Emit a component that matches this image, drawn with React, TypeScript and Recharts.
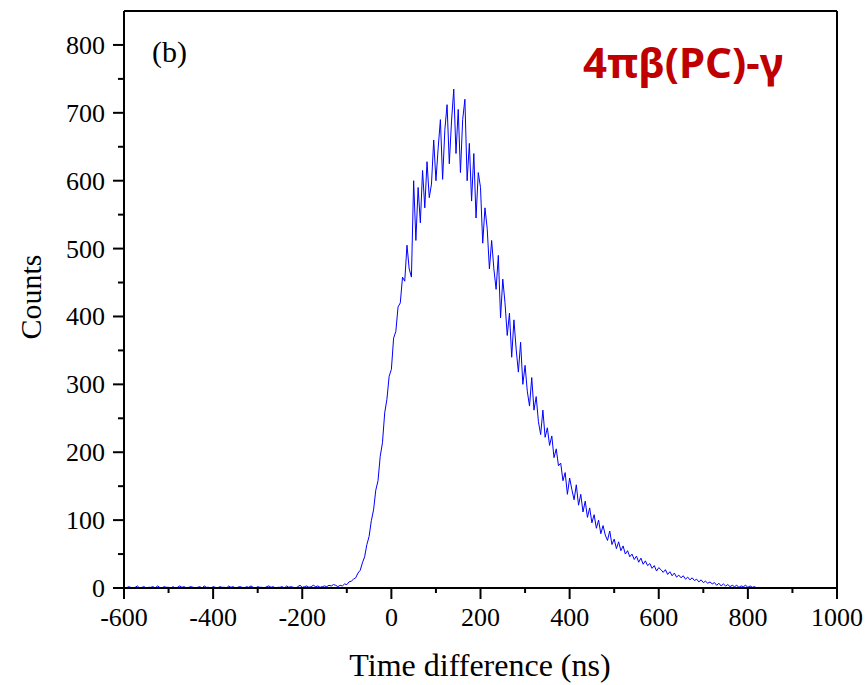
import React from 'react';
import { LineChart, Line, XAxis, YAxis, ReferenceLine } from 'recharts';

// time bins of 5 ns, first bin at -600 ns
const binStart = -600;
const binWidth = 5;

// flat background, -600 .. -125 ns
const baselineCounts = [
  1, 0, 2, 1, 0, 1, 3, 0, 1, 2,
  0, 1, 1, 2, 0, 3, 1, 0, 2, 1,
  1, 0, 2, 0, 1, 3, 1, 2, 0, 1,
  2, 1, 0, 1, 2, 0, 3, 1, 1, 0,
  2, 1, 0, 2, 1, 1, 0, 3, 1, 2,
  0, 1, 2, 1, 0, 2, 1, 3, 1, 0,
  2, 1, 1, 0, 2, 3, 1, 2, 0, 1,
  1, 2, 0, 3, 1, 2, 1, 0, 2, 4,
  1, 2, 3, 1, 2, 4, 2, 3, 1, 2,
  3, 2, 4, 3, 5, 4
];

// coincidence peak, -120 .. 830 ns
const pulseCounts = [
  2, 4, 3, 6, 5, 9, 10, 13, 15, 22,
  26, 37, 46, 64, 76, 99, 115, 144, 158, 194,
  214, 258, 278, 312, 322, 368, 378, 414, 420, 458,
  452, 505, 470, 458, 600, 512, 590, 538, 615, 560,
  628, 575, 595, 660, 600, 648, 690, 602, 675, 712,
  625, 688, 735, 640, 705, 612, 690, 720, 600, 655,
  570, 640, 545, 612, 590, 508, 560, 530, 470, 512,
  470, 440, 490, 398, 455, 420, 372, 405, 340, 395,
  352, 318, 362, 300, 328, 290, 268, 310, 262, 282,
  245, 226, 262, 222, 236, 210, 224, 192, 205, 180,
  184, 158, 170, 138, 162, 145, 130, 152, 122, 138,
  112, 128, 104, 118, 96, 108, 88, 100, 80, 92,
  78, 70, 84, 64, 72, 58, 68, 55, 62, 50,
  55, 46, 50, 42, 47, 38, 44, 35, 40, 33,
  36, 29, 33, 25, 30, 27, 23, 27, 20, 24,
  18, 22, 16, 19, 15, 18, 13, 16, 12, 15,
  11, 13, 9, 12, 8, 10, 7, 9, 6, 8,
  4, 7, 3, 6, 3, 5, 2, 4, 2, 4,
  1, 3, 2, 4, 1, 3, 1, 2, 0, 1,
  0
];

const xTicks = [-600, -500, -400, -300, -200, -100, 0, 100, 200, 300, 400, 500, 600, 700, 800, 900, 1000];
const yTicks = [0, 50, 100, 150, 200, 250, 300, 350, 400, 450, 500, 550, 600, 650, 700, 750, 800];

const data = [...baselineCounts, ...pulseCounts].map((c, i) => ({ t: binStart + i * binWidth, counts: c }));

const serif = '"Liberation Serif", "Times New Roman", serif';

const XTick = ({ x, y, payload }: any) => {
  const major = payload.value % 200 === 0;
  return (
    <g>
      <line x1={x} x2={x} y1={y} y2={y + (major ? 11 : 5)} stroke="#000" strokeWidth={2} />
      {major && (
        <text x={x} y={y + 38} textAnchor="middle" fontFamily={serif} fontSize={26} fill="#000">
          {payload.value}
        </text>
      )}
    </g>
  );
};

const YTick = ({ x, y, payload }: any) => {
  const major = payload.value % 100 === 0;
  return (
    <g>
      <line x1={x - (major ? 11 : 6)} x2={x} y1={y} y2={y} stroke="#000" strokeWidth={2} />
      {major && (
        <text x={x - 19} y={y + 9} textAnchor="end" fontFamily={serif} fontSize={26} fill="#000">
          {payload.value}
        </text>
      )}
    </g>
  );
};

const App = () => {
  return (
    <div style={{ position: 'absolute', left: 0, top: 0, width: 867, height: 685, background: '#fff' }}>
      <LineChart width={867} height={685} data={data} margin={{ top: 11, right: 30, left: 0, bottom: 0 }}>
        <XAxis
          dataKey="t"
          type="number"
          domain={[-600, 1000]}
          ticks={xTicks}
          interval={0}
          height={97}
          tickSize={0}
          tickMargin={0}
          tickLine={false}
          tick={<XTick />}
          stroke="#000"
          strokeWidth={2}
        />
        <YAxis
          type="number"
          domain={[0, 850]}
          ticks={yTicks}
          interval={0}
          width={124}
          tickSize={0}
          tickMargin={0}
          tickLine={false}
          tick={<YTick />}
          stroke="#000"
          strokeWidth={2}
        />
        <ReferenceLine y={850} stroke="#000" strokeWidth={2} />
        <ReferenceLine x={1000} stroke="#000" strokeWidth={2} />
        <Line type="linear" dataKey="counts" stroke="#0000ff" strokeWidth={1} dot={false} isAnimationActive={false} />
        <text x={480} y={676} textAnchor="middle" fontFamily={serif} fontSize={32} fill="#000">
          Time difference (ns)
        </text>
        <text x={41} y={297} transform="rotate(-90 41 297)" textAnchor="middle" fontFamily={serif} fontSize={30} fill="#000">
          Counts
        </text>
        <text x={152} y={62} fontFamily={serif} fontSize={30} fill="#000">
          (b)
        </text>
        <text x={583} y={78} fontFamily='"Noto Sans", "Open Sans", sans-serif' fontWeight="bold" fontSize={42} fill="#c00000">
          4πβ(PC)-γ
        </text>
      </LineChart>
    </div>
  );
};

export default App;
